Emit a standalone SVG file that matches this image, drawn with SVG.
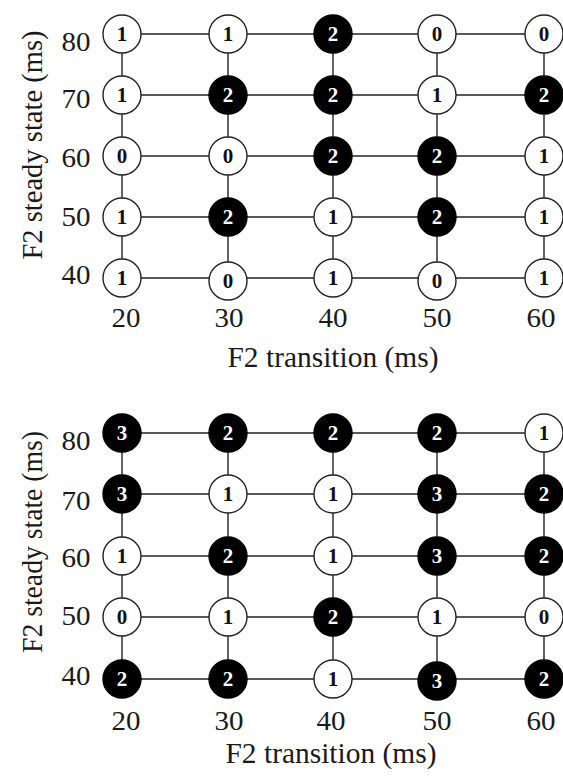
<svg xmlns="http://www.w3.org/2000/svg" width="563" height="776" viewBox="0 0 563 776">
<style>
.bg{fill:#fff}
.ln{stroke:#222;stroke-width:1.4;fill:none}
.cw{fill:#fff;stroke:#222;stroke-width:1.4}
.cb{fill:#000;stroke:#000;stroke-width:1.4}
.nw{font-family:"Liberation Serif","Times New Roman",serif;font-weight:bold;font-size:21px;fill:#111;text-anchor:middle}
.nb{font-family:"Liberation Serif","Times New Roman",serif;font-weight:bold;font-size:21px;fill:#fff;text-anchor:middle}
.tk{font-family:"Liberation Serif","Times New Roman",serif;font-size:27px;fill:#1a1a1a;text-anchor:middle}
.ti{font-family:"Liberation Serif","Times New Roman",serif;font-size:30px;fill:#1a1a1a;text-anchor:middle}
</style>
<rect class="bg" x="0" y="0" width="563" height="776"/>

<g id="connectors">
  <line class="ln" x1="122" y1="34" x2="544" y2="34"/>
  <line class="ln" x1="122" y1="95" x2="544" y2="95"/>
  <line class="ln" x1="122" y1="156" x2="544" y2="156"/>
  <line class="ln" x1="122" y1="217" x2="544" y2="217"/>
  <line class="ln" x1="122" y1="278" x2="544" y2="278"/>
  <line class="ln" x1="122" y1="34" x2="122" y2="278"/>
  <line class="ln" x1="228" y1="34" x2="228" y2="280"/>
  <line class="ln" x1="333" y1="34" x2="333" y2="278"/>
  <line class="ln" x1="437" y1="34" x2="437" y2="280"/>
  <line class="ln" x1="544" y1="34" x2="544" y2="278"/>
  <line class="ln" x1="122" y1="433" x2="544" y2="433"/>
  <line class="ln" x1="122" y1="494" x2="544" y2="494"/>
  <line class="ln" x1="122" y1="556" x2="544" y2="556"/>
  <line class="ln" x1="122" y1="617" x2="544" y2="617"/>
  <line class="ln" x1="122" y1="679" x2="544" y2="679"/>
  <line class="ln" x1="122" y1="433" x2="122" y2="679"/>
  <line class="ln" x1="228" y1="433" x2="228" y2="679"/>
  <line class="ln" x1="333" y1="433" x2="333" y2="679"/>
  <line class="ln" x1="437" y1="433" x2="437" y2="681"/>
  <line class="ln" x1="544" y1="433" x2="544" y2="679"/>
</g>

<g id="t-80-20"><circle class="cw" cx="122" cy="34" r="19"/><text class="nw" x="122" y="41">1</text></g>
<g id="t-80-30"><circle class="cw" cx="228" cy="34" r="19"/><text class="nw" x="228" y="41">1</text></g>
<g id="t-80-40"><circle class="cb" cx="333" cy="34" r="19"/><text class="nb" x="333" y="41">2</text></g>
<g id="t-80-50"><circle class="cw" cx="437" cy="34" r="19"/><text class="nw" x="437" y="41">0</text></g>
<g id="t-80-60"><circle class="cw" cx="544" cy="34" r="19"/><text class="nw" x="544" y="41">0</text></g>

<g id="t-70-20"><circle class="cw" cx="122" cy="95" r="19"/><text class="nw" x="122" y="102">1</text></g>
<g id="t-70-30"><circle class="cb" cx="228" cy="95" r="19"/><text class="nb" x="228" y="102">2</text></g>
<g id="t-70-40"><circle class="cb" cx="333" cy="95" r="19"/><text class="nb" x="333" y="102">2</text></g>
<g id="t-70-50"><circle class="cw" cx="437" cy="95" r="19"/><text class="nw" x="437" y="102">1</text></g>
<g id="t-70-60"><circle class="cb" cx="544" cy="95" r="19"/><text class="nb" x="544" y="102">2</text></g>

<g id="t-60-20"><circle class="cw" cx="122" cy="156" r="19"/><text class="nw" x="122" y="163">0</text></g>
<g id="t-60-30"><circle class="cw" cx="228" cy="156" r="19"/><text class="nw" x="228" y="163">0</text></g>
<g id="t-60-40"><circle class="cb" cx="333" cy="156" r="19"/><text class="nb" x="333" y="163">2</text></g>
<g id="t-60-50"><circle class="cb" cx="437" cy="156" r="19"/><text class="nb" x="437" y="163">2</text></g>
<g id="t-60-60"><circle class="cw" cx="544" cy="156" r="19"/><text class="nw" x="544" y="163">1</text></g>

<g id="t-50-20"><circle class="cw" cx="122" cy="217" r="19"/><text class="nw" x="122" y="224">1</text></g>
<g id="t-50-30"><circle class="cb" cx="228" cy="217" r="19"/><text class="nb" x="228" y="224">2</text></g>
<g id="t-50-40"><circle class="cw" cx="333" cy="217" r="19"/><text class="nw" x="333" y="224">1</text></g>
<g id="t-50-50"><circle class="cb" cx="437" cy="217" r="19"/><text class="nb" x="437" y="224">2</text></g>
<g id="t-50-60"><circle class="cw" cx="544" cy="217" r="19"/><text class="nw" x="544" y="224">1</text></g>

<g id="t-40-20"><circle class="cw" cx="122" cy="278" r="19"/><text class="nw" x="122" y="285">1</text></g>
<g id="t-40-30"><circle class="cw" cx="228" cy="281" r="19"/><text class="nw" x="228" y="288">0</text></g>
<g id="t-40-40"><circle class="cw" cx="333" cy="278" r="19"/><text class="nw" x="333" y="285">1</text></g>
<g id="t-40-50"><circle class="cw" cx="437" cy="281" r="19"/><text class="nw" x="437" y="288">0</text></g>
<g id="t-40-60"><circle class="cw" cx="544" cy="278" r="19"/><text class="nw" x="544" y="285">1</text></g>

<g id="b-80-20"><circle class="cb" cx="122" cy="433" r="19"/><text class="nb" x="122" y="440">3</text></g>
<g id="b-80-30"><circle class="cb" cx="228" cy="433" r="19"/><text class="nb" x="228" y="440">2</text></g>
<g id="b-80-40"><circle class="cb" cx="333" cy="433" r="19"/><text class="nb" x="333" y="440">2</text></g>
<g id="b-80-50"><circle class="cb" cx="437" cy="433" r="19"/><text class="nb" x="437" y="440">2</text></g>
<g id="b-80-60"><circle class="cw" cx="544" cy="433" r="19"/><text class="nw" x="544" y="440">1</text></g>

<g id="b-70-20"><circle class="cb" cx="122" cy="494" r="19"/><text class="nb" x="122" y="501">3</text></g>
<g id="b-70-30"><circle class="cw" cx="228" cy="494" r="19"/><text class="nw" x="228" y="501">1</text></g>
<g id="b-70-40"><circle class="cw" cx="333" cy="494" r="19"/><text class="nw" x="333" y="501">1</text></g>
<g id="b-70-50"><circle class="cb" cx="437" cy="494" r="19"/><text class="nb" x="437" y="501">3</text></g>
<g id="b-70-60"><circle class="cb" cx="544" cy="494" r="19"/><text class="nb" x="544" y="501">2</text></g>

<g id="b-60-20"><circle class="cw" cx="122" cy="556" r="19"/><text class="nw" x="122" y="563">1</text></g>
<g id="b-60-30"><circle class="cb" cx="228" cy="556" r="19"/><text class="nb" x="228" y="563">2</text></g>
<g id="b-60-40"><circle class="cw" cx="333" cy="556" r="19"/><text class="nw" x="333" y="563">1</text></g>
<g id="b-60-50"><circle class="cb" cx="437" cy="556" r="19"/><text class="nb" x="437" y="563">3</text></g>
<g id="b-60-60"><circle class="cb" cx="544" cy="556" r="19"/><text class="nb" x="544" y="563">2</text></g>

<g id="b-50-20"><circle class="cw" cx="122" cy="617" r="19"/><text class="nw" x="122" y="624">0</text></g>
<g id="b-50-30"><circle class="cw" cx="228" cy="617" r="19"/><text class="nw" x="228" y="624">1</text></g>
<g id="b-50-40"><circle class="cb" cx="333" cy="617" r="19"/><text class="nb" x="333" y="624">2</text></g>
<g id="b-50-50"><circle class="cw" cx="437" cy="617" r="19"/><text class="nw" x="437" y="624">1</text></g>
<g id="b-50-60"><circle class="cw" cx="544" cy="617" r="19"/><text class="nw" x="544" y="624">0</text></g>

<g id="b-40-20"><circle class="cb" cx="122" cy="679" r="19"/><text class="nb" x="122" y="686">2</text></g>
<g id="b-40-30"><circle class="cb" cx="228" cy="679" r="19"/><text class="nb" x="228" y="686">2</text></g>
<g id="b-40-40"><circle class="cw" cx="333" cy="679" r="19"/><text class="nw" x="333" y="686">1</text></g>
<g id="b-40-50"><circle class="cb" cx="437" cy="681" r="19"/><text class="nb" x="437" y="688">3</text></g>
<g id="b-40-60"><circle class="cb" cx="544" cy="679" r="19"/><text class="nb" x="544" y="686">2</text></g>

<g id="top-axes">
  <text class="tk" x="76" y="51" textLength="29" lengthAdjust="spacingAndGlyphs">80</text>
  <text class="tk" x="76" y="108" textLength="29" lengthAdjust="spacingAndGlyphs">70</text>
  <text class="tk" x="76" y="167" textLength="29" lengthAdjust="spacingAndGlyphs">60</text>
  <text class="tk" x="76" y="226" textLength="29" lengthAdjust="spacingAndGlyphs">50</text>
  <text class="tk" x="76" y="284" textLength="29" lengthAdjust="spacingAndGlyphs">40</text>
  <text class="tk" x="126" y="327" textLength="29" lengthAdjust="spacingAndGlyphs">20</text>
  <text class="tk" x="229" y="327" textLength="29" lengthAdjust="spacingAndGlyphs">30</text>
  <text class="tk" x="333" y="327" textLength="29" lengthAdjust="spacingAndGlyphs">40</text>
  <text class="tk" x="437" y="327" textLength="29" lengthAdjust="spacingAndGlyphs">50</text>
  <text class="tk" x="541" y="327" textLength="29" lengthAdjust="spacingAndGlyphs">60</text>
  <text class="ti" x="333" y="367" textLength="211" lengthAdjust="spacingAndGlyphs">F2 transition (ms)</text>
  <text class="ti" transform="translate(42,145) rotate(-90)" font-size="29" textLength="229" lengthAdjust="spacingAndGlyphs">F2 steady state (ms)</text>
</g>

<g id="bottom-axes">
  <text class="tk" x="76" y="450" textLength="29" lengthAdjust="spacingAndGlyphs">80</text>
  <text class="tk" x="76" y="510" textLength="29" lengthAdjust="spacingAndGlyphs">70</text>
  <text class="tk" x="76" y="567" textLength="29" lengthAdjust="spacingAndGlyphs">60</text>
  <text class="tk" x="76" y="625" textLength="29" lengthAdjust="spacingAndGlyphs">50</text>
  <text class="tk" x="76" y="685" textLength="29" lengthAdjust="spacingAndGlyphs">40</text>
  <text class="tk" x="126" y="730" textLength="29" lengthAdjust="spacingAndGlyphs">20</text>
  <text class="tk" x="229" y="730" textLength="29" lengthAdjust="spacingAndGlyphs">30</text>
  <text class="tk" x="331" y="730" textLength="29" lengthAdjust="spacingAndGlyphs">40</text>
  <text class="tk" x="437" y="730" textLength="29" lengthAdjust="spacingAndGlyphs">50</text>
  <text class="tk" x="541" y="730" textLength="29" lengthAdjust="spacingAndGlyphs">60</text>
  <text class="ti" x="331" y="763" textLength="211" lengthAdjust="spacingAndGlyphs">F2 transition (ms)</text>
  <text class="ti" transform="translate(42,542) rotate(-90)" font-size="29" textLength="222" lengthAdjust="spacingAndGlyphs">F2 steady state (ms)</text>
</g>
</svg>
